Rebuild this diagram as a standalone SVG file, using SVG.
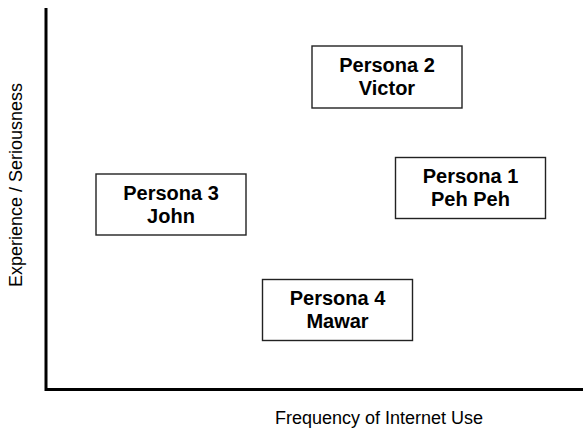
<svg xmlns="http://www.w3.org/2000/svg" width="583" height="428" viewBox="0 0 583 428">
<style>
.box{fill:#fff;stroke:#222;stroke-width:1.4}
.lbl{font-family:"Liberation Sans",Arial,sans-serif;font-weight:bold;font-size:20px;fill:#000;text-anchor:middle}
.ax{font-family:"Liberation Sans",Arial,sans-serif;font-size:18px;fill:#000;text-anchor:middle}
</style>
<rect width="583" height="428" fill="#fff"/>
<g id="axes">
<path d="M46,8 V389.5 H583" fill="none" stroke="#000" stroke-width="3"/>
</g>
<text class="ax" x="379" y="424">Frequency of Internet Use</text>
<text class="ax" transform="translate(22,185) rotate(-90)">Experience / Seriousness</text>
<g id="persona2">
<rect class="box" x="312" y="46" width="150" height="62"/>
<text class="lbl" x="387" y="72">Persona 2</text>
<text class="lbl" x="387" y="95">Victor</text>
</g>
<g id="persona1">
<rect class="box" x="395.5" y="157.5" width="150" height="61"/>
<text class="lbl" x="470.5" y="183">Persona 1</text>
<text class="lbl" x="470.5" y="206">Peh Peh</text>
</g>
<g id="persona3">
<rect class="box" x="96" y="174" width="150" height="61"/>
<text class="lbl" x="171" y="200">Persona 3</text>
<text class="lbl" x="171" y="223">John</text>
</g>
<g id="persona4">
<rect class="box" x="262.5" y="279.5" width="150" height="61"/>
<text class="lbl" x="337.5" y="305">Persona 4</text>
<text class="lbl" x="337.5" y="328">Mawar</text>
</g>
<g id="connectors"></g>
</svg>
